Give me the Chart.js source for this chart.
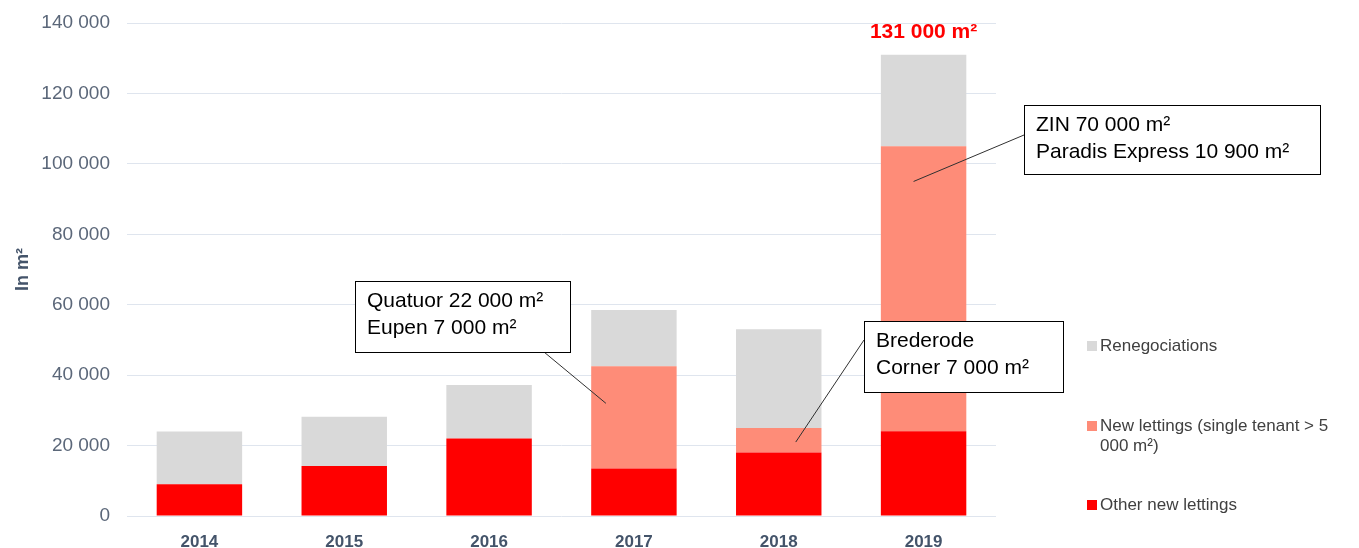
<!DOCTYPE html>
<html>
<head>
<meta charset="utf-8"/>
<script src="https://cdn.jsdelivr.net/npm/chart.js@4/dist/chart.umd.min.js"></script>
<style>
  html, body { margin: 0; padding: 0; background: #ffffff; }
  #wrap { position: relative; width: 1359px; height: 548px; }
</style>
</head>
<body>
<div id="wrap"><canvas id="myChart" width="1359" height="548"></canvas></div>
<script>
// data (m²)
const years = ["2014", "2015", "2016", "2017", "2018", "2019"];
const otherNew = [9000, 14200, 22000, 13500, 18000, 24100];
const bigNew = [0, 0, 0, 29000, 7000, 80900];
const renego = [15000, 14000, 15200, 16000, 28000, 26000];
const yTicks = [0, 20000, 40000, 60000, 80000, 100000, 120000, 140000];

const totalLabel = "131 000 m²";

// callouts: text lines, box (left, top, width, height), anchor on a bar (year index, x shift, value)
const callouts = [
  { lines: ["Quatuor 22 000 m²", "Eupen 7 000 m²"], box: [355, 281, 215, 71], from: [544, 352], bar: 3, dx: -28, value: 32000 },
  { lines: ["Brederode", "Corner 7 000 m²"], box: [864, 321, 199, 71], from: [864, 340], bar: 4, dx: 17, value: 21000 },
  { lines: ["ZIN 70 000 m²", "Paradis Express 10 900 m²"], box: [1024, 105, 296, 69], from: [1024, 135], bar: 5, dx: -10, value: 95000 }
];

const fmt = v => v === 0 ? "0" : String(v).replace(/\B(?=(\d{3})+(?!\d))/g, " ");

const extras = {
  id: "extras",
  afterDraw(chart) {
    const c = chart.ctx;
    const xs = chart.scales.x, ys = chart.scales.y;
    c.save();

    // total label above the 2019 bar
    c.fillStyle = "#ff0000";
    c.font = "bold 21px Arial, 'Liberation Sans'";
    c.textAlign = "center";
    c.textBaseline = "alphabetic";
    c.fillText(totalLabel, xs.getPixelForValue(5), 38);

    // callouts
    callouts.forEach(o => {
      const ax = xs.getPixelForValue(o.bar) + o.dx;
      const ay = ys.getPixelForValue(o.value);
      c.strokeStyle = "#303030";
      c.lineWidth = 1;
      c.beginPath();
      c.moveTo(o.from[0], o.from[1]);
      c.lineTo(ax, ay);
      c.stroke();
      const [bx, by, bw, bh] = o.box;
      c.fillStyle = "#ffffff";
      c.fillRect(bx, by, bw, bh);
      c.strokeStyle = "#000000";
      c.strokeRect(bx + 0.5, by + 0.5, bw, bh);
      c.fillStyle = "#000000";
      c.font = "21px Arial, 'Liberation Sans'";
      c.textAlign = "left";
      c.textBaseline = "middle";
      o.lines.forEach((t, i) => c.fillText(t, bx + 12, by + 20 + i * 27));
    });

    // legend on the right, top to bottom
    const items = [
      { ds: 2, lines: ["Renegociations"], y: 346 },
      { ds: 1, lines: ["New lettings (single tenant > 5", "000 m²)"], y: 426 },
      { ds: 0, lines: ["Other new lettings"], y: 505 }
    ];
    c.font = "17px Arial, 'Liberation Sans'";
    c.textBaseline = "middle";
    items.forEach(it => {
      const ds = chart.data.datasets[it.ds];
      c.fillStyle = ds.backgroundColor;
      c.fillRect(1087, it.y - 5, 10, 10);
      c.fillStyle = "#404040";
      it.lines.forEach((t, i) => c.fillText(t, 1100, it.y + i * 20));
    });

    c.restore();
  }
};

new Chart(document.getElementById("myChart"), {
  type: "bar",
  data: {
    labels: years,
    datasets: [
      { label: "Other new lettings", data: otherNew, backgroundColor: "#ff0000" },
      { label: "New lettings (single tenant > 5 000 m²)", data: bigNew, backgroundColor: "#fe8c78" },
      { label: "Renegociations", data: renego, backgroundColor: "#d9d9d9" }
    ]
  },
  options: {
    responsive: false,
    animation: false,
    layout: { padding: { top: 23, right: 363, bottom: 0, left: 0 } },
    datasets: { bar: { categoryPercentage: 1, barPercentage: 0.59 } },
    plugins: { legend: { display: false }, tooltip: { enabled: false } },
    scales: {
      x: {
        stacked: true,
        grid: { display: false },
        border: { display: false },
        ticks: { color: "#44546a", font: { family: "Arial, 'Liberation Sans'", size: 17, weight: "bold" }, padding: 8 },
        afterFit(s) { s.height = 32; s.paddingLeft = 0; s.paddingRight = 0; }
      },
      y: {
        stacked: true,
        min: 0,
        max: 140000,
        afterBuildTicks(s) { s.ticks = yTicks.map(v => ({ value: v })); },
        grid: { color: "#dfe5ee", lineWidth: 1, drawTicks: false },
        border: { display: false },
        ticks: {
          color: "#5b6779",
          padding: 17,
          font: { family: "Arial, 'Liberation Sans'", size: 19 },
          callback: v => fmt(v)
        },
        title: {
          display: true,
          text: "In m²",
          color: "#44546a",
          font: { family: "Arial, 'Liberation Sans'", size: 18, weight: "bold" },
          padding: { top: 12, bottom: 0 }
        },
        afterFit(s) { s.width = 127; s.paddingTop = 0; s.paddingBottom = 0; }
      }
    }
  },
  plugins: [extras]
});
</script>
</body>
</html>
